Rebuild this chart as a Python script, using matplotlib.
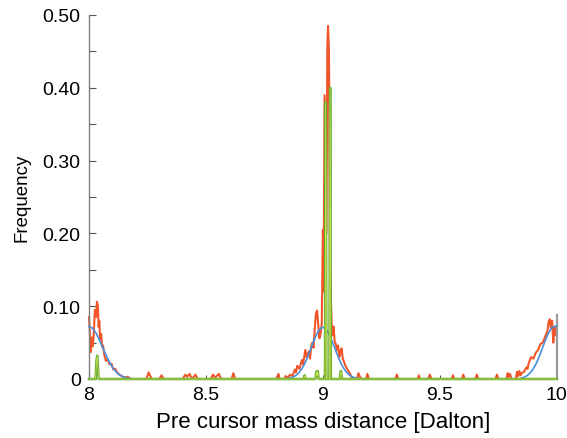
import matplotlib
matplotlib.use("Agg")
import matplotlib.pyplot as plt
from matplotlib.ticker import FixedLocator

plt.rcParams['font.family'] = ['Liberation Sans', 'DejaVu Sans']

# ---------------- data ----------------
x_ticks = [8, 8.5, 9, 9.5, 10]
x_tick_labels = ["8", "8.5", "9", "9.5", "10"]
y_ticks = [0, 0.1, 0.2, 0.3, 0.4, 0.5]
y_tick_labels = ["0", "0.10", "0.20", "0.30", "0.40", "0.50"]
y_minor_ticks = [0.05, 0.15, 0.25, 0.35, 0.45]

# observed frequency (red, noisy)
red_x = [8.000, 8.004, 8.008, 8.012, 8.016, 8.020, 8.025, 8.030, 8.034, 8.038,
         8.041, 8.044, 8.047, 8.052, 8.056, 8.060, 8.066, 8.072, 8.080, 8.088,
         8.096, 8.104, 8.112, 8.120, 8.130, 8.140, 8.150, 8.165, 8.180,
         8.245, 8.255, 8.262, 8.268, 8.300, 8.310, 8.320, 8.400, 8.412, 8.420,
         8.430, 8.440, 8.455, 8.465, 8.520, 8.530, 8.540, 8.555, 8.565, 8.610,
         8.617, 8.625, 8.800, 8.810, 8.815, 8.835, 8.840,
         8.850, 8.860, 8.870, 8.880, 8.885, 8.890, 8.900, 8.910, 8.915, 8.925,
         8.930, 8.940, 8.945, 8.950, 8.955, 8.960, 8.965, 8.970, 8.975, 8.980,
         8.985, 8.990, 8.995, 9.000, 9.003, 9.007, 9.011, 9.015, 9.019, 9.022,
         9.026, 9.030, 9.034, 9.038, 9.042, 9.046, 9.050, 9.055, 9.060, 9.065,
         9.070, 9.075, 9.080, 9.085, 9.090, 9.095, 9.100, 9.107, 9.115, 9.120,
         9.130, 9.145, 9.152, 9.158, 9.165,
         9.185, 9.190, 9.197, 9.310, 9.316, 9.322, 9.405, 9.410, 9.415, 9.450,
         9.457, 9.464, 9.550, 9.556, 9.562, 9.595, 9.600, 9.606, 9.652, 9.658,
         9.664, 9.738, 9.744, 9.750, 9.785, 9.790, 9.795, 9.800, 9.806, 9.825,
         9.830, 9.835, 9.840, 9.845, 9.850,
         9.860, 9.870, 9.875, 9.880, 9.890, 9.900, 9.910, 9.920, 9.930, 9.940,
         9.950, 9.960, 9.965, 9.970, 9.975, 9.980, 9.985, 9.990, 9.995, 10.000]
red_y = [0.085, 0.060, 0.037, 0.057, 0.045, 0.060, 0.095, 0.085, 0.106, 0.100,
         0.072, 0.080, 0.055, 0.062, 0.044, 0.046, 0.032, 0.025, 0.027, 0.020,
         0.021, 0.013, 0.014, 0.009, 0.006, 0.004, 0.002, 0.003, 0.000,
         0.000, 0.009, 0.004, 0.000, 0.000, 0.005, 0.000, 0.000, 0.006, 0.003,
         0.007, 0.000, 0.006, 0.000, 0.000, 0.006, 0.002, 0.007, 0.000, 0.000,
         0.008, 0.000, 0.000, 0.007, 0.000, 0.000, 0.004,
         0.002, 0.006, 0.004, 0.013, 0.009, 0.018, 0.014, 0.026, 0.020, 0.040,
         0.030, 0.038, 0.028, 0.045, 0.050, 0.043, 0.068, 0.090, 0.094, 0.075,
         0.056, 0.062, 0.075, 0.205, 0.120, 0.390, 0.300, 0.200, 0.460, 0.485,
         0.450, 0.160, 0.110, 0.070, 0.060, 0.072, 0.052, 0.048, 0.040, 0.046,
         0.030, 0.038, 0.042, 0.028, 0.024, 0.019, 0.016, 0.012, 0.008, 0.004,
         0.000, 0.000, 0.008, 0.003, 0.000,
         0.000, 0.007, 0.000, 0.000, 0.006, 0.000, 0.000, 0.005, 0.000, 0.000,
         0.006, 0.000, 0.000, 0.005, 0.000, 0.000, 0.006, 0.000, 0.000, 0.006,
         0.000, 0.000, 0.006, 0.000, 0.000, 0.008, 0.003, 0.007, 0.000, 0.000,
         0.010, 0.004, 0.011, 0.005, 0.008,
         0.010, 0.016, 0.014, 0.022, 0.030, 0.028, 0.036, 0.040, 0.048, 0.050,
         0.058, 0.066, 0.078, 0.082, 0.070, 0.080, 0.050, 0.072, 0.060, 0.068]

# fitted curve (blue)
blue_x = [8.00, 8.01, 8.02, 8.03, 8.04, 8.05, 8.06, 8.07, 8.08, 8.09, 8.10,
          8.11, 8.12, 8.13, 8.14, 8.15, 8.16, 8.18, 8.20,
          8.84, 8.85, 8.86, 8.87, 8.88, 8.89, 8.90, 8.91, 8.92, 8.93, 8.94,
          8.95, 8.96, 8.97, 8.98, 8.99, 9.00, 9.01, 9.02, 9.03, 9.04, 9.05,
          9.06, 9.07, 9.08, 9.09, 9.10, 9.11, 9.12, 9.13, 9.14, 9.15, 9.16,
          9.84, 9.85, 9.86, 9.87, 9.88, 9.89, 9.90, 9.91, 9.92, 9.93, 9.94,
          9.95, 9.96, 9.97, 9.98, 9.99, 10.00]
blue_y = [0.0720, 0.0709, 0.0678, 0.0630, 0.0568, 0.0496, 0.0422, 0.0348, 0.0278, 0.0216, 0.0163,
          0.0119, 0.0085, 0.0058, 0.0039, 0.0025, 0.0016, 0.0005, 0.0000,
          0.0000, 0.0008, 0.0014, 0.0024, 0.0040, 0.0063, 0.0096, 0.0141, 0.0197, 0.0266, 0.0346,
          0.0431, 0.0514, 0.0593, 0.0653, 0.0696, 0.0710, 0.0696, 0.0653, 0.0593, 0.0514, 0.0431,
          0.0346, 0.0266, 0.0197, 0.0141, 0.0096, 0.0063, 0.0040, 0.0024, 0.0014, 0.0008, 0.0000,
          0.0000, 0.0014, 0.0024, 0.0040, 0.0064, 0.0098, 0.0144, 0.0200, 0.0270, 0.0351, 0.0438,
          0.0522, 0.0602, 0.0663, 0.0706, 0.0720, 0.0730]

# exact-match frequency (green spikes)
green_x = [8.000, 8.028, 8.032, 8.035, 8.038, 8.041, 8.918, 8.922, 8.926,
           8.968, 8.972, 8.975, 8.978, 8.982, 9.009, 9.012, 9.015, 9.028,
           9.031, 9.034, 9.072, 9.077, 9.082, 10.000]
green_y = [0.000, 0.000, 0.025, 0.032, 0.018, 0.000, 0.000, 0.005, 0.000,
           0.000, 0.010, 0.004, 0.011, 0.000, 0.000, 0.380, 0.000, 0.000,
           0.400, 0.000, 0.000, 0.011, 0.000, 0.000]

# ---------------- plot ----------------
fig = plt.figure(figsize=(5.67, 4.39), dpi=100)
ax = fig.add_axes([0.157, 0.1344, 0.825, 0.8292])

ax.plot(blue_x, blue_y, color='#4a8fdc', lw=1.2, zorder=3, clip_on=False)
ax.plot(red_x, red_y, color='#f0562a', lw=1.5, zorder=2, clip_on=False)
ax.plot(green_x, green_y, color='#5fa833', lw=1.8, zorder=4, clip_on=False)
ax.plot(green_x, green_y, color='#d6e84a', lw=0.5, zorder=5, clip_on=False)

ax.set_xlim(8, 10)
ax.set_ylim(0, 0.5)

ax.xaxis.set_major_locator(FixedLocator(x_ticks))
ax.set_xticklabels(x_tick_labels)
ax.yaxis.set_major_locator(FixedLocator(y_ticks))
ax.set_yticklabels(y_tick_labels)
ax.yaxis.set_minor_locator(FixedLocator(y_minor_ticks))

for s in ['top', 'bottom']:
    ax.spines[s].set_visible(False)
ax.spines['left'].set_color('#808080')
ax.spines['left'].set_linewidth(1.0)
ax.spines['right'].set_color('#9a9a9a')
ax.spines['right'].set_linewidth(1.6)
ax.spines['right'].set_bounds(0, 0.088)

ax.tick_params(axis='y', which='both', direction='in', length=5, width=0.8,
               color='#555555', labelsize=14, pad=6)
ax.tick_params(axis='x', which='major', direction='in', length=3, width=0.8,
               color='#555555', labelsize=14, pad=5)

ax.set_xlabel('Pre cursor mass distance [Dalton]', fontsize=16, labelpad=6)
ax.set_ylabel('Frequency', fontsize=13.5, labelpad=9)

fig.savefig('out.png', dpi=100)
